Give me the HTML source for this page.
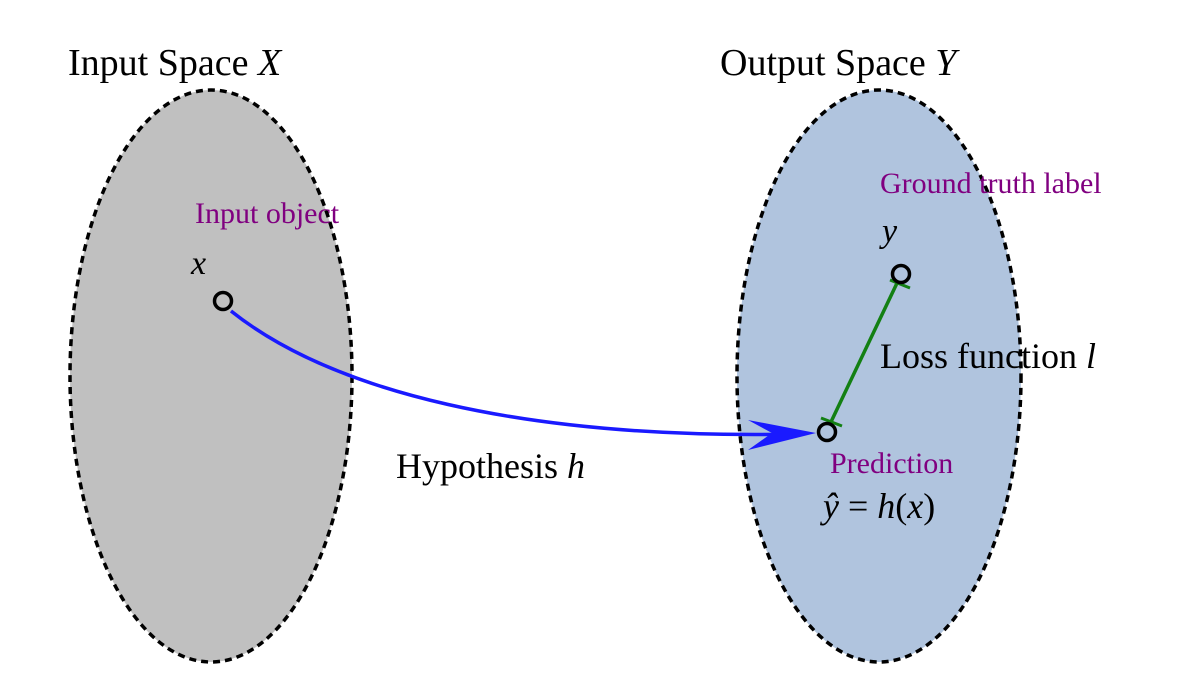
<!DOCTYPE html>
<html><head><meta charset="utf-8"><style>
html,body{margin:0;padding:0;background:#fff;}
svg{display:block;}
text{font-family:"Liberation Serif",serif;}
</style></head><body>
<svg width="1202" height="698" viewBox="0 0 1202 698" xmlns="http://www.w3.org/2000/svg">
<ellipse cx="211" cy="376" rx="141" ry="286" fill="#c0c0c0" stroke="#000" stroke-width="3.5" stroke-dasharray="7 5"/>
<ellipse cx="879" cy="376" rx="142" ry="286" fill="#b0c4de" stroke="#000" stroke-width="3.5" stroke-dasharray="7 5"/>
<text x="68" y="75" font-size="38">Input Space <tspan font-style="italic">X</tspan></text>
<text x="720" y="75" font-size="38">Output Space <tspan font-style="italic">Y</tspan></text>
<text x="195" y="223" font-size="30" fill="#800080">Input object</text>
<text x="191" y="274" font-size="34" font-style="italic">x</text>
<text x="880" y="193" font-size="30" fill="#800080">Ground truth label</text>
<text x="882" y="242" font-size="34" font-style="italic">y</text>
<text x="880" y="368" font-size="36">Loss function <tspan font-style="italic">l</tspan></text>
<text x="830" y="473" font-size="30" fill="#800080">Prediction</text>
<text x="823" y="518" font-size="36"><tspan font-style="italic">ŷ</tspan> = <tspan font-style="italic">h</tspan>(<tspan font-style="italic">x</tspan>)</text>
<text x="396" y="478" font-size="36">Hypothesis <tspan font-style="italic">h</tspan></text>
<path d="M231 311 C 330 390, 520 440, 800 434" fill="none" stroke="#1a1aff" stroke-width="3.5"/>
<path d="M816 433 L748 420 L772 433 L748 450 Z" fill="#1a1aff"/>
<line x1="898" y1="281" x2="830" y2="424" stroke="#138013" stroke-width="3.5"/>
<line x1="890" y1="280" x2="910" y2="288" stroke="#138013" stroke-width="3"/>
<line x1="821" y1="418" x2="842" y2="426" stroke="#138013" stroke-width="3"/>
<circle cx="223" cy="301" r="8.5" fill="none" stroke="#000" stroke-width="3.5"/>
<circle cx="901" cy="274" r="8.5" fill="none" stroke="#000" stroke-width="3.5"/>
<circle cx="827" cy="432" r="8.5" fill="none" stroke="#000" stroke-width="3.5"/>
</svg>
</body></html>
